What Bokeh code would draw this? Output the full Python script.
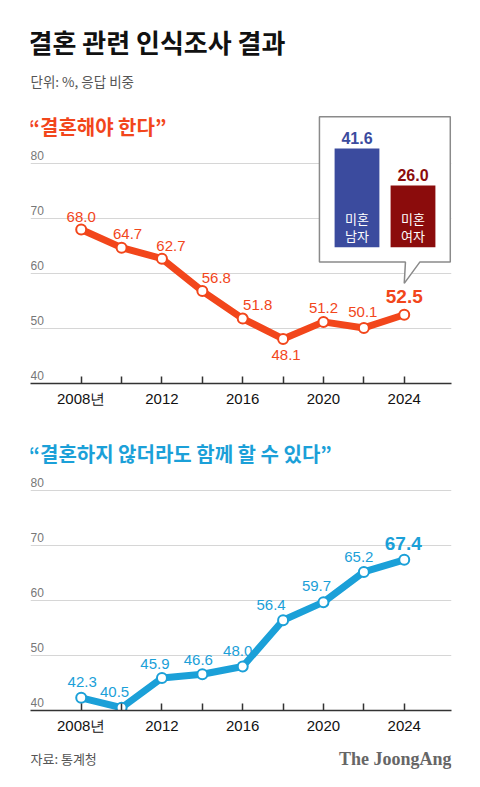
from bokeh.plotting import figure
from bokeh.models import ColumnDataSource, Range1d, FixedTicker, Label
from bokeh.layouts import column
from bokeh.embed import file_html
from bokeh.resources import INLINE
from bokeh.core.properties import value

# ---------------- data ----------------
years = [2008, 2010, 2012, 2014, 2016, 2018, 2020, 2022, 2024]
should_marry = [68.0, 64.7, 62.7, 56.8, 51.8, 48.1, 51.2, 50.1, 52.5]
live_together = [42.3, 40.5, 45.9, 46.6, 48.0, 56.4, 59.7, 65.2, 67.4]
year_labels = ["2008년", "", "2012", "", "2016", "", "2020", "", "2024"]
y_ticks = [40, 50, 60, 70, 80]
y_tick_labels = ["40", "50", "60", "70", "80"]
gender_groups = ["미혼\n남자", "미혼\n여자"]
gender_values = [41.6, 26.0]

title_text = "결혼 관련 인식조사 결과"
subtitle_text = "단위: %, 응답 비중"
section1_text = "“결혼해야 한다”"
section2_text = "“결혼하지 않더라도 함께 할 수 있다”"
source_text = "자료: 통계청"
brand_text = "The JoongAng"

# ---------------- styles ----------------
ORANGE = "#f2461b"
BLUE = "#1ba0d8"
BAR_BLUE = "#3b4b9e"
BAR_RED = "#8b0c0c"
GRID = "#d6d6d6"
AXIS = "#333333"
KR = "Noto Sans CJK KR"
NUM = "Liberation Sans"

W = 480
ML, MR = 30, 29
PX_YEAR = 20.19
PX_UNIT = 5.5
FRAME_W = W - ML - MR
X0 = 2008 - (80.7 - ML) / PX_YEAR
X1 = X0 + FRAME_W / PX_YEAR

top_dx = [0, 6, 9, 14, 15, 3, 0, -1, 0]
top_dy = [-13, -14, -13, -13.5, -13.5, 16, -13.5, -16, -18]
bot_dx = [1, -7, -7, -4, -5, -12, -7, -5, -1]
bot_dy = [-16, -15.5, -14, -14.5, -16, -15, -16.5, -14.5, -16]


def make_chart(height, mb):
    frame_h = height - mb
    p = figure(width=W, height=height,
               x_range=Range1d(X0, X1),
               y_range=Range1d(40, 40 + frame_h / PX_UNIT),
               output_backend="svg", toolbar_location=None,
               y_axis_location=None,
               min_border_left=ML, min_border_right=MR,
               min_border_top=0, min_border_bottom=mb)
    p.outline_line_color = None
    p.background_fill_color = "white"
    p.border_fill_color = "white"
    p.xgrid.visible = False
    p.ygrid.ticker = FixedTicker(ticks=y_ticks)
    p.ygrid.grid_line_color = GRID
    p.ygrid.grid_line_width = 1

    ax = p.xaxis[0]
    ax.ticker = FixedTicker(ticks=years)
    ax.major_label_overrides = {y: l for y, l in zip(years, year_labels)}
    ax.major_tick_in = 7
    ax.major_tick_out = 0
    ax.minor_tick_line_color = None
    ax.axis_line_color = AXIS
    ax.axis_line_width = 1.5
    ax.major_tick_line_color = AXIS
    ax.major_tick_line_width = 1.5
    ax.major_label_text_font = NUM
    ax.major_label_text_font_size = "15px"
    ax.major_label_text_color = "#111111"
    ax.major_label_standoff = 6

    # y tick labels sitting above gridlines
    p.text(x=[X0] * len(y_ticks), y=y_ticks, text=y_tick_labels,
           text_align="left", text_baseline="middle", y_offset=-8.5,
           text_font=value(NUM), text_font_size="12px", text_color="#777777")
    return p


def add_series(p, values, color, dx, dy):
    p.line(years, values, line_width=7, line_color=color, line_join="round")
    p.scatter(years, values, size=10, fill_color="white",
              line_color=color, line_width=2)
    n = len(values)
    src = ColumnDataSource(dict(
        x=years, y=values, label=[f"{v:.1f}" for v in values],
        dx=dx, dy=dy,
        size=["15px"] * (n - 1) + ["19px"],
        style=["normal"] * (n - 1) + ["bold"],
    ))
    p.text(x="x", y="y", text="label", x_offset="dx", y_offset="dy",
           text_font_size="size", text_font_style="style",
           text_align="center", text_baseline="middle",
           text_font=value(NUM), text_color=color, source=src)


def screen_label(p, x, y, text, font, size, color, bold=False, align="left"):
    p.add_layout(Label(x=x, y=y, x_units="screen", y_units="screen", text=text,
                       text_font=font, text_font_size=size,
                       text_font_style="bold" if bold else "normal",
                       text_color=color, text_align=align, text_baseline="middle"))


# ---------------- top chart ----------------
p1 = make_chart(420, 37)

# callout box pointing at last value
tx, ty = years[-1], should_marry[-1] + 5.7
box_x = [tx - 4.2, X1 - 0.06, X1 - 0.06, tx + 0.77, tx, tx + 0.06, tx - 4.2]
box_y = [ty + 30.3, ty + 30.3, ty + 3.87, ty + 3.87, ty, ty + 3.87, ty + 3.87]
p1.patch(box_x, box_y, fill_color="white", line_color="#8a8a8a", line_width=1.5)

# inset bars on their own ranges
bx0 = (ML - 356.5) / 56
p1.extra_x_ranges = {"bx": Range1d(bx0, bx0 + FRAME_W / 56)}
by0 = -(383 - 246.7) / 2.373
p1.extra_y_ranges = {"by": Range1d(by0, by0 + 383 / 2.373)}
bar_colors = [BAR_BLUE, BAR_RED]
p1.vbar(x=[0, 1], top=gender_values, bottom=0, width=0.8, fill_color=bar_colors,
        line_color=None, x_range_name="bx", y_range_name="by")
p1.text(x=[0, 1], y=gender_values, text=[f"{v:.1f}" for v in gender_values],
        text_align="center", text_baseline="middle", y_offset=-10.5,
        text_font=value(NUM), text_font_size="16px", text_font_style="bold",
        text_color=bar_colors, x_range_name="bx", y_range_name="by")
line1 = [g.split("\n")[0] for g in gender_groups]
line2 = [g.split("\n")[1] for g in gender_groups]
for txt, off in ((line1, -29.2), (line2, -11.7)):
    p1.text(x=[0, 1], y=[0, 0], text=txt,
            text_align="center", text_baseline="middle", y_offset=off,
            text_font=value(KR), text_font_size="13px",
            text_color="white", x_range_name="bx", y_range_name="by")

add_series(p1, should_marry, ORANGE, top_dx, top_dy)

screen_label(p1, -2, 342.5, title_text, KR, "26px", "#111111", bold=True)
screen_label(p1, 0, 302.5, subtitle_text, KR, "13.5px", "#555555")
screen_label(p1, -2, 257.5, section1_text, KR, "20px", ORANGE, bold=True)

# ---------------- bottom chart ----------------
p2 = make_chart(325, 35)
add_series(p2, live_together, BLUE, bot_dx, bot_dy)
screen_label(p2, -2, 257.5, section2_text, KR, "20px", BLUE, bold=True)

# ---------------- footer ----------------
p3 = figure(width=W, height=42, x_range=Range1d(0, 1), y_range=Range1d(0, 1),
            output_backend="svg", toolbar_location=None,
            x_axis_location=None, y_axis_location=None,
            min_border_left=ML, min_border_right=MR, min_border_top=0, min_border_bottom=0)
p3.outline_line_color = None
p3.xgrid.visible = False
p3.ygrid.visible = False
screen_label(p3, 0, 29, source_text, KR, "13px", "#555555")
screen_label(p3, FRAME_W, 29, brand_text, "Liberation Serif", "18px", "#666666",
             bold=True, align="right")

layout = column(p1, p2, p3)
open("out.html", "w").write(file_html(layout, INLINE))
